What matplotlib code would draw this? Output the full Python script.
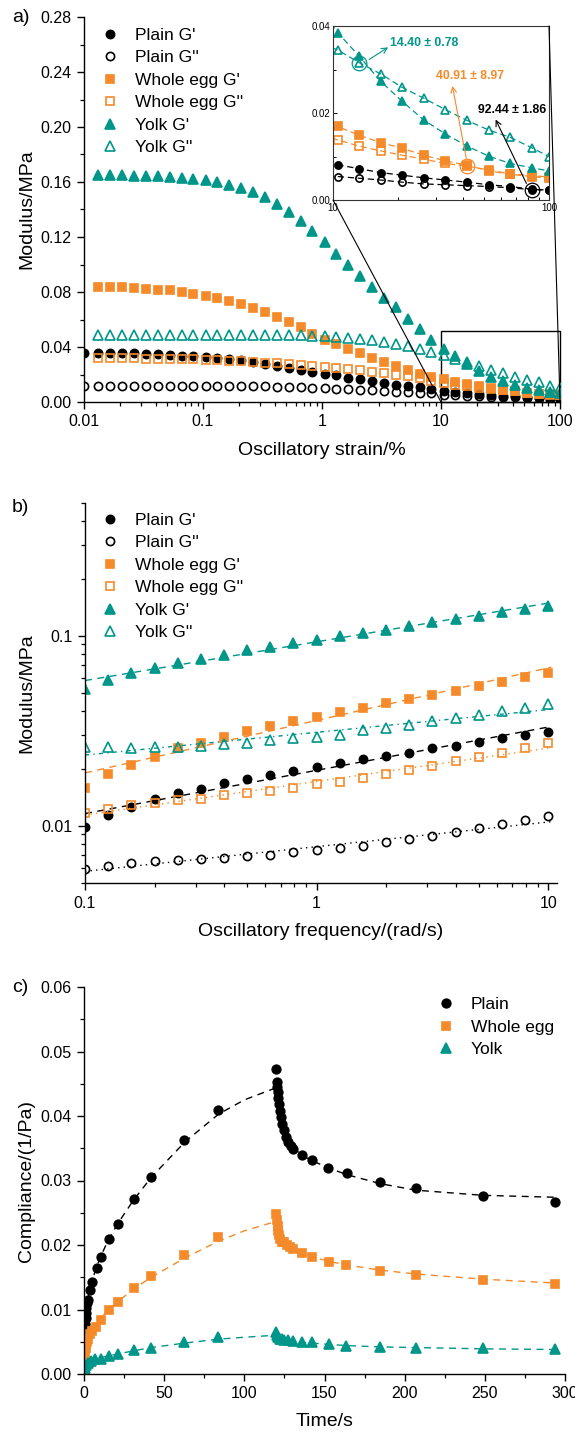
import numpy as np
import matplotlib.pyplot as plt
from matplotlib.ticker import MultipleLocator, FuncFormatter, NullFormatter, FormatStrFormatter
from matplotlib.patches import Rectangle, ConnectionPatch

plt.rcParams['font.family'] = ['Liberation Sans', 'DejaVu Sans']

ORANGE = '#F58A2B'
TEAL = '#00968A'
nan = np.nan

# ---------------- a) strain sweep ----------------
strain = [0.0100, 0.0132, 0.0166, 0.0209, 0.0263, 0.0331, 0.0417, 0.0525, 0.0661, 0.0832,
          0.105, 0.132, 0.166, 0.209, 0.263, 0.331, 0.417, 0.525, 0.661, 0.832,
          1.05, 1.32, 1.66, 2.09, 2.63, 3.31, 4.17, 5.25, 6.61, 8.32,
          10.5, 13.2, 16.6, 20.9, 26.3, 33.1, 41.7, 52.5, 66.1, 83.2, 100]
plain_g1 = [0.0359, 0.0359, 0.0359, 0.0356, 0.0354, 0.0351, 0.0346, 0.0342, 0.0337, 0.0334,
            0.0329, 0.0322, 0.0315, 0.0305, 0.0290, 0.0276, 0.0261, 0.0244, 0.0232, 0.0220,
            0.0207, 0.0193, 0.0178, 0.0166, 0.0151, 0.0139, 0.0127, 0.0117, 0.0106, 0.0094,
            0.0081, 0.0072, 0.0063, 0.0057, 0.0051, 0.0046, 0.0041, 0.0035, 0.0031, 0.0025, 0.0022]
plain_g2 = [0.0120, 0.0120, 0.0120, 0.0120, 0.0120, 0.0120, 0.0120, 0.0120, 0.0120, 0.0120,
            0.0119, 0.0118, 0.0117, 0.0116, 0.0115, 0.0113, 0.0111, 0.0109, 0.0106, 0.0103,
            0.0100, 0.0097, 0.0093, 0.0089, 0.0085, 0.0080, 0.0076, 0.0071, 0.0067, 0.0063,
            0.0054, 0.0050, 0.0046, 0.0041, 0.0037, 0.0035, 0.0033, 0.0031, 0.0028, 0.0024, 0.0023]
whole_g1 = [nan, 0.0838, 0.0838, 0.0833, 0.0826, 0.0821, 0.0816, 0.0811, 0.0799, 0.0787,
            0.0774, 0.0757, 0.0738, 0.0714, 0.0685, 0.0656, 0.0620, 0.0583, 0.0544, 0.0498,
            0.0454, 0.0425, 0.0388, 0.0360, 0.0320, 0.0290, 0.0260, 0.0230, 0.0206, 0.0182,
            0.0169, 0.0149, 0.0132, 0.0119, 0.0103, 0.0090, 0.0080, 0.0067, 0.0059, 0.0054, 0.0050]
whole_g2 = [nan, 0.0317, 0.0317, 0.0317, 0.0317, 0.0315, 0.0315, 0.0312, 0.0312, 0.0310,
            0.0307, 0.0305, 0.0300, 0.0295, 0.0290, 0.0285, 0.0281, 0.0276, 0.0271, 0.0264,
            0.0256, 0.0249, 0.0239, 0.0232, 0.0220, 0.0212, 0.0200, 0.0190, 0.0172, 0.0155,
            0.0138, 0.0124, 0.0113, 0.0103, 0.0094, 0.0084, 0.0078, 0.0069, 0.0060, 0.0056, 0.0053]
yolk_g1 = [nan, 0.1650, 0.1650, 0.1650, 0.1645, 0.1645, 0.1645, 0.1640, 0.1630, 0.1620,
           0.1615, 0.1600, 0.1580, 0.1560, 0.1530, 0.1490, 0.1440, 0.1385, 0.1320, 0.1246,
           0.1166, 0.1080, 0.1000, 0.0920, 0.0840, 0.0758, 0.0688, 0.0603, 0.0530, 0.0454,
           0.0385, 0.0331, 0.0273, 0.0227, 0.0184, 0.0152, 0.0124, 0.0101, 0.0084, 0.0074, 0.0067]
yolk_g2 = [nan, 0.0486, 0.0486, 0.0486, 0.0486, 0.0486, 0.0486, 0.0486, 0.0486, 0.0486,
           0.0486, 0.0486, 0.0486, 0.0486, 0.0486, 0.0486, 0.0486, 0.0486, 0.0484, 0.0482,
           0.0480, 0.0474, 0.0467, 0.0460, 0.0450, 0.0437, 0.0425, 0.0408, 0.0389, 0.0364,
           0.0345, 0.0316, 0.0290, 0.0259, 0.0234, 0.0208, 0.0183, 0.0161, 0.0144, 0.0120, 0.0100]
# crossover points marked in the inset: (index into the G'' series, label)
crossovers = [(31, '14.40 ± 0.78'), (36, '40.91 ± 8.97'), (39, '92.44 ± 1.86')]

# ---------------- b) frequency sweep ----------------
freq = [0.1, 0.126, 0.158, 0.2, 0.251, 0.316, 0.398, 0.501, 0.631, 0.794,
        1.0, 1.26, 1.58, 2.0, 2.51, 3.16, 3.98, 5.01, 6.31, 7.94, 10.0]
b_plain_g1 = [0.00989, 0.0114, 0.0125, 0.0139, 0.0149, 0.0157, 0.0167, 0.0176, 0.0186, 0.0194,
              0.0205, 0.0213, 0.0225, 0.0233, 0.0243, 0.0256, 0.0263, 0.0275, 0.0289, 0.0300, 0.0313]
b_plain_g2 = [0.00596, 0.00615, 0.00638, 0.00654, 0.00659, 0.00667, 0.00681, 0.00692, 0.00706, 0.00724,
              0.00745, 0.00766, 0.00785, 0.00818, 0.00848, 0.00883, 0.0093, 0.0097, 0.0102, 0.0107, 0.0113]
b_whole_g1 = [0.0159, 0.0187, 0.0209, 0.0231, 0.0256, 0.0274, 0.0295, 0.0317, 0.0336, 0.0357,
              0.0376, 0.0399, 0.0419, 0.0445, 0.0466, 0.0489, 0.0515, 0.0545, 0.0574, 0.0606, 0.0636]
b_whole_g2 = [0.0117, 0.0122, 0.0129, 0.0132, 0.0137, 0.0139, 0.0145, 0.0148, 0.0153, 0.0159,
              0.0166, 0.0171, 0.0179, 0.0187, 0.0197, 0.0206, 0.0218, 0.0229, 0.0243, 0.0258, 0.0272]
b_yolk_g1 = [0.0524, 0.0586, 0.0635, 0.0676, 0.0718, 0.0757, 0.0794, 0.0837, 0.0871, 0.0915,
             0.0953, 0.0992, 0.1033, 0.1076, 0.1120, 0.1175, 0.1224, 0.1274, 0.1327, 0.1387, 0.1440]
b_yolk_g2 = [0.0259, 0.0259, 0.0256, 0.0259, 0.0260, 0.0263, 0.0270, 0.0274, 0.0283, 0.0289,
             0.0295, 0.0301, 0.0320, 0.0329, 0.0340, 0.0357, 0.0368, 0.0383, 0.0403, 0.0416, 0.0436]

# ---------------- c) creep and recovery ----------------
plain_t = [0, 0.2, 0.4, 0.6, 0.8, 1.0, 1.2, 1.5, 1.9, 2.5, 3.6, 5.2, 8.1, 10.4, 15.6, 20.9,
           31.2, 41.5, 62.3, 83.6, 120.0,
           120.2, 120.5, 120.8, 121.2, 121.7, 122.3, 123.0, 123.8, 124.8, 126.0, 127.4, 128.9,
           130.5, 135.7, 142.0, 152.4, 163.9, 184.6, 207.2, 249.0, 294.0]
plain_j = [0.0, 0.0035, 0.0055, 0.0068, 0.0078, 0.0087, 0.0094, 0.0102, 0.0110, 0.0115, 0.0130,
           0.0143, 0.0165, 0.0182, 0.0210, 0.0232, 0.0272, 0.0306, 0.0363, 0.0410, 0.0473,
           0.0452, 0.0445, 0.0437, 0.0428, 0.0418, 0.0408, 0.0398, 0.0388, 0.0378, 0.0368, 0.0360,
           0.0354, 0.0349, 0.0339, 0.0332, 0.0320, 0.0311, 0.0298, 0.0288, 0.0276, 0.0267]
whole_t = [0, 0.3, 0.6, 1.0, 1.5, 1.9, 2.5, 3.6, 5.2, 7.7, 10.4, 15.6, 20.9, 31.2, 41.5, 62.3,
           83.6, 120.0,
           120.3, 120.7, 121.2, 121.8, 122.5, 123.4, 124.8, 126.5, 128.5, 130.5, 136.0, 142.0,
           152.7, 163.7, 184.8, 207.0, 249.0, 294.0]
whole_j = [0.0, 0.0024, 0.0033, 0.0040, 0.0046, 0.0050, 0.0055, 0.0062, 0.0066, 0.0073, 0.0083,
           0.0099, 0.0112, 0.0133, 0.0152, 0.0184, 0.0212, 0.0248,
           0.0238, 0.0230, 0.0222, 0.0215, 0.0209, 0.0205, 0.0205, 0.0200, 0.0197, 0.0194, 0.0187,
           0.0182, 0.0174, 0.0169, 0.0160, 0.0153, 0.0146, 0.0139]
yolk_t = [0, 0.7, 1.5, 2.5, 4.5, 7.0, 10.3, 15.6, 21.1, 31.4, 41.7, 62.5, 83.6, 120.0,
          120.5, 121.2, 122.2, 123.5, 125.0, 127.0, 130.5, 136.0, 142.0, 152.7, 163.7, 184.8,
          207.0, 249.0, 294.0]
yolk_j = [0.0, 0.0009, 0.0014, 0.0017, 0.0020, 0.0023, 0.0024, 0.0028, 0.0031, 0.0037, 0.0041,
          0.0050, 0.0058, 0.0065,
          0.0060, 0.0057, 0.0055, 0.0054, 0.0053, 0.0052, 0.0051, 0.0050, 0.0049, 0.0046, 0.0044,
          0.0042, 0.0041, 0.0040, 0.0038]
# model curves (dashed)
creep_fit_t = [0, 1, 2, 4, 7, 10, 15, 21, 31, 42, 63, 84, 100, 119]
plain_creep_fit = [0.0, 0.0095, 0.0112, 0.0135, 0.0160, 0.0180, 0.0207, 0.0233, 0.0270, 0.0305,
                   0.0360, 0.0403, 0.0425, 0.0443]
whole_creep_fit = [0.0, 0.0040, 0.0050, 0.0062, 0.0075, 0.0085, 0.0099, 0.0112, 0.0132, 0.0150,
                   0.0180, 0.0206, 0.0222, 0.0236]
yolk_creep_fit = [0.0, 0.0012, 0.0015, 0.0019, 0.0022, 0.0025, 0.0028, 0.0031, 0.0036, 0.0041,
                  0.0048, 0.0054, 0.0057, 0.0060]
rec_fit_t = [120, 120.5, 121, 122, 123.5, 125, 127.5, 130.5, 136, 142, 152, 164, 185, 207, 249, 294]
plain_rec_fit = [0.0443, 0.0432, 0.0422, 0.0405, 0.0388, 0.0375, 0.0362, 0.0351, 0.0339, 0.0331,
                 0.0320, 0.0309, 0.0295, 0.0285, 0.0277, 0.0274]
whole_rec_fit = [0.0236, 0.0228, 0.0222, 0.0214, 0.0207, 0.0202, 0.0197, 0.0193, 0.0187, 0.0182,
                 0.0175, 0.0169, 0.0161, 0.0155, 0.0147, 0.0141]
yolk_rec_fit = [0.0060, 0.0058, 0.0056, 0.0054, 0.0053, 0.0052, 0.0051, 0.0050, 0.0049, 0.0048,
                0.0046, 0.0044, 0.0042, 0.0041, 0.0039, 0.0038]

labels_mod = ["Plain G'", "Plain G''", "Whole egg G'", "Whole egg G''", "Yolk G'", "Yolk G''"]
styles = [('o', 'k', True), ('o', 'k', False), ('s', ORANGE, True), ('s', ORANGE, False),
          ('^', TEAL, True), ('^', TEAL, False)]

TICK = 11.5
LAB = 14
LEG = 12.5


def mk(marker, color, filled, ms=5.9):
    return dict(marker=marker, ms=ms if marker != '^' else ms + 0.8, mec=color,
                mfc=color if filled else 'none', mew=1.2, color=color)


def style(ax):
    for s in ['top', 'right']:
        ax.spines[s].set_visible(False)
    for s in ['left', 'bottom']:
        ax.spines[s].set_linewidth(1.0)
    ax.tick_params(which='major', direction='out', length=5, width=1, labelsize=TICK, pad=4)
    ax.tick_params(which='minor', direction='out', length=2.8, width=0.9)


leg_kw = dict(loc='upper left', frameon=False, fontsize=LEG, borderaxespad=0, borderpad=0,
              handlelength=1.0, handletextpad=0.94, labelspacing=0.42)

fig = plt.figure(figsize=(5.75, 14.33), dpi=100)
W, H = 575.0, 1433.0

# ---------- panel a ----------
ax = fig.add_axes([84 / W, 1 - 402 / H, 476 / W, 385 / H])
series_a = [plain_g1, plain_g2, whole_g1, whole_g2, yolk_g1, yolk_g2]
handles = []
for vals, (m, c, f), lab in zip(series_a, styles, labels_mod):
    h, = ax.plot(strain, vals, ls='none', label=lab, **mk(m, c, f))
    handles.append(h)
ax.set_xscale('log')
ax.set_xlim(0.01, 100)
ax.set_ylim(0, 0.28)
ax.yaxis.set_major_locator(MultipleLocator(0.04))
ax.yaxis.set_minor_locator(MultipleLocator(0.02))
ax.yaxis.set_major_formatter(FormatStrFormatter('%.2f'))
ax.xaxis.set_major_formatter(FuncFormatter(lambda v, p: '%g' % v))
style(ax)
ax.set_xlabel('Oscillatory strain/%', fontsize=LAB)
ax.set_ylabel('Modulus/MPa', fontsize=LAB)
ax.xaxis.set_label_coords(0.5, -0.104)
ax.yaxis.set_label_coords(-0.103, 0.5)
ax.legend(handles=handles, bbox_to_anchor=(0.036, 0.972), **leg_kw)
ax.add_patch(Rectangle((10, 0), 90, 0.0515, fill=False, ec='k', lw=1.0, clip_on=False))

# inset
ins = fig.add_axes([333 / W, 1 - 200 / H, 216 / W, 174 / H])
for vals, (m, c, f) in zip(series_a, styles):
    ins.plot(strain, vals, ls=(0, (5, 3)), lw=0.9, **mk(m, c, f, ms=5.2))
ins.set_xscale('log')
ins.set_xlim(10, 100)
ins.set_ylim(0, 0.04)
ins.yaxis.set_major_locator(MultipleLocator(0.02))
ins.yaxis.set_minor_locator(MultipleLocator(0.01))
ins.yaxis.set_major_formatter(FormatStrFormatter('%.2f'))
ins.xaxis.set_major_formatter(FuncFormatter(lambda v, p: '%g' % v))
ins.xaxis.set_minor_formatter(NullFormatter())
ins.tick_params(which='both', direction='in', labelsize=7, pad=2, width=0.7)
ins.tick_params(which='major', length=3)
ins.tick_params(which='minor', length=2)
for s in ins.spines.values():
    s.set_linewidth(0.8)
    s.set_color('#333333')

circ_cols = [TEAL, ORANGE, 'k']
circ_series = [yolk_g2, whole_g2, plain_g2]
arrow_start = [(14.7, 0.0323), (41.4, 0.0096), (78.6, 0.0038)]
arrow_end = [(18.0, 0.0351), (35.7, 0.0262), (56.6, 0.0185)]
text_pos = [(18.3, 0.0362), (29.9, 0.0285), (46.9, 0.0207)]
for (i, txt), c, vals, a0, a1, tp in zip(crossovers, circ_cols, circ_series,
                                         arrow_start, arrow_end, text_pos):
    ins.plot(strain[i], vals[i], 'o', ms=10.5, mfc='none', mec=c, mew=0.9)
    ins.annotate('', xy=a1, xytext=a0,
                 arrowprops=dict(arrowstyle='->', color=c, lw=0.8, shrinkA=0, shrinkB=0))
    ins.text(tp[0], tp[1], txt, color=c, fontsize=8.8, fontweight='bold', va='center', ha='left')

fig.add_artist(ConnectionPatch(xyA=(10, 0), coordsA=ins.transData, xyB=(10, 0),
                               coordsB=ax.transData, color='k', lw=0.8))
fig.add_artist(ConnectionPatch(xyA=(100, 0.04), coordsA=ins.transData, xyB=(100, 0),
                               coordsB=ax.transData, color='k', lw=0.8))

# ---------- panel b ----------
bx = fig.add_axes([85 / W, 1 - 883 / H, 472 / W, 380 / H])
series_b = [b_plain_g1, b_plain_g2, b_whole_g1, b_whole_g2, b_yolk_g1, b_yolk_g2]
fit_ls = [(0, (5, 4)), (0, (1, 3)), (0, (5, 4)), (0, (1, 3)), (0, (5, 4)), (0, (3, 3, 1, 3))]
handles = []
for vals, (m, c, f), lab, ls in zip(series_b, styles, labels_mod, fit_ls):
    p = np.polyfit(np.log10(freq), np.log10(vals), 1)
    xx = np.logspace(-1, np.log10(10.3), 50)
    bx.plot(xx, 10 ** np.polyval(p, np.log10(xx)), color=c, lw=1.0, ls=ls)
    h, = bx.plot(freq, vals, ls='none', label=lab, **mk(m, c, f))
    handles.append(h)
bx.set_xscale('log')
bx.set_yscale('log')
bx.set_xlim(0.1, 10.9)
bx.set_ylim(0.005, 0.5)
bx.xaxis.set_major_formatter(FuncFormatter(lambda v, p: '%g' % v))
bx.yaxis.set_major_formatter(FuncFormatter(lambda v, p: '%g' % v))
bx.xaxis.set_minor_formatter(NullFormatter())
bx.yaxis.set_minor_formatter(NullFormatter())
style(bx)
bx.set_xlabel('Oscillatory frequency/(rad/s)', fontsize=LAB)
bx.set_ylabel('Modulus/MPa', fontsize=LAB)
bx.xaxis.set_label_coords(0.5, -0.105)
bx.yaxis.set_label_coords(-0.106, 0.5)
bx.legend(handles=handles, bbox_to_anchor=(0.0345, 0.974), **leg_kw)

# ---------- panel c ----------
cx = fig.add_axes([84 / W, 1 - 1374 / H, 481 / W, 387 / H])
c_sets = [(plain_t, plain_j, plain_creep_fit, plain_rec_fit, 'o', 'k', 'Plain'),
          (whole_t, whole_j, whole_creep_fit, whole_rec_fit, 's', ORANGE, 'Whole egg'),
          (yolk_t, yolk_j, yolk_creep_fit, yolk_rec_fit, '^', TEAL, 'Yolk')]
handles = []
for t, j, cf, rf, m, c, lab in c_sets:
    cx.plot(creep_fit_t, cf, color=c, lw=1.0, ls=(0, (5, 4)))
    cx.plot(rec_fit_t, rf, color=c, lw=1.0, ls=(0, (5, 4)))
    h, = cx.plot(t, j, ls='none', label=lab, **mk(m, c, True, ms=6.2))
    handles.append(h)
cx.set_xlim(0, 300)
cx.set_ylim(0, 0.06)
cx.xaxis.set_major_locator(MultipleLocator(50))
cx.xaxis.set_minor_locator(MultipleLocator(25))
cx.yaxis.set_major_locator(MultipleLocator(0.01))
cx.yaxis.set_minor_locator(MultipleLocator(0.005))
cx.yaxis.set_major_formatter(FormatStrFormatter('%.2f'))
style(cx)
cx.set_xlabel('Time/s', fontsize=LAB)
cx.set_ylabel('Compliance/(1/Pa)', fontsize=LAB)
cx.xaxis.set_label_coords(0.5, -0.101)
cx.yaxis.set_label_coords(-0.102, 0.5)
cx.legend(handles=handles, bbox_to_anchor=(0.7345, 0.974), **leg_kw)

# panel letters
fig.text(12 / W, 1 - 17 / H, 'a)', fontsize=14, va='center', ha='left')
fig.text(12 / W, 1 - 507 / H, 'b)', fontsize=14, va='center', ha='left')
fig.text(12 / W, 1 - 987 / H, 'c)', fontsize=14, va='center', ha='left')

fig.savefig('out.png', dpi=100)
